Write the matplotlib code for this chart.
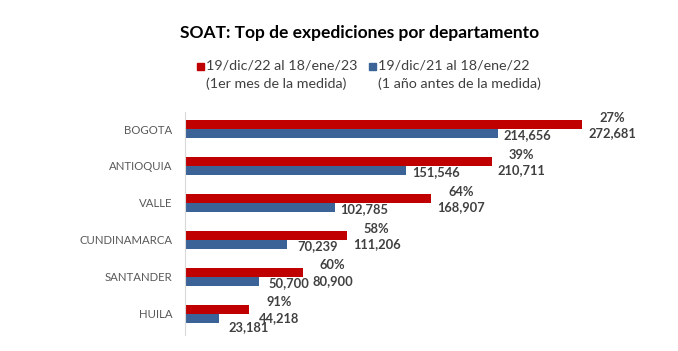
import matplotlib
matplotlib.use("Agg")
import matplotlib.pyplot as plt
from matplotlib.patches import Rectangle
import numpy as np

plt.rcParams['font.family'] = ['Lato', 'DejaVu Sans']

categories = ["BOGOTA", "ANTIOQUIA", "VALLE", "CUNDINAMARCA", "SANTANDER", "HUILA"]
current = [272681, 210711, 168907, 111206, 80900, 44218]
previous = [214656, 151546, 102785, 70239, 50700, 23181]
growth_pct = [27, 39, 64, 58, 60, 91]
series_labels = [("19/dic/22 al 18/ene/23", "(1er mes de la medida)"),
                 ("19/dic/21 al 18/ene/22", "(1 año antes de la medida)")]
title = "SOAT: Top de expediciones por departamento"

RED = "#C00000"
BLUE = "#3B6397"
TXT = "#404040"

W, H = 678, 351
fig = plt.figure(figsize=(W / 100, H / 100), dpi=100)
fig.patch.set_facecolor("white")

ax_left, ax_right = 185, 660
ax_top, ax_bot = 112, 335
ax = fig.add_axes([ax_left / W, 1 - ax_bot / H, (ax_right - ax_left) / W, (ax_bot - ax_top) / H])

px_per_unit = 1.456e-3
ax.set_xlim(0, (ax_right - ax_left) / px_per_unit)
ax.set_ylim(5.57, -0.46)

y = np.arange(len(categories))
bh = 0.245
off = 0.122
ax.barh(y - off, current, height=bh, color=RED)
ax.barh(y + off, previous, height=bh, color=BLUE)

for s in ["top", "right", "bottom"]:
    ax.spines[s].set_visible(False)
ax.spines["left"].set_color("#D9D9D9")
ax.spines["left"].set_linewidth(0.8)
ax.set_xticks([])
ax.set_yticks(y)
ax.set_yticklabels(categories, fontsize=8.2, color="#595959")
ax.tick_params(axis="y", length=0, pad=9)

lab_kw = dict(fontsize=9.3, fontweight="bold", color=TXT, ha="center", va="center",
              textcoords="offset points")
blue_dy = [-1.4, -1.4, -1.4, -1.4, -1.4, -6.5]
for i in range(len(categories)):
    ax.annotate(f"{growth_pct[i]}%", (current[i], y[i] - off), xytext=(21.5, 5.0), **lab_kw)
    ax.annotate(f"{current[i]:,}", (current[i], y[i] - off), xytext=(21.5, -6.1), **lab_kw)
    ax.annotate(f"{previous[i]:,}", (previous[i], y[i] + off), xytext=(21.5, blue_dy[i]), **lab_kw)

fig.text(360 / W, 1 - 33 / H, title, ha="center", va="center", fontsize=12.5,
         fontweight="bold", color="black")

leg_x = [206, 378]
for (l1, l2), c, x0 in zip(series_labels, [RED, BLUE], leg_x):
    fig.patches.append(Rectangle(((x0 - 9) / W, 1 - 69.5 / H), 7 / W, 7 / H,
                                 transform=fig.transFigure, color=c))
    fig.text(x0 / W, 1 - 66 / H, l1, ha="left", va="center", fontsize=10.3, color=TXT)
    fig.text(x0 / W, 1 - 84 / H, l2, ha="left", va="center", fontsize=10.3, color=TXT)

fig.savefig("out.png", dpi=100, facecolor="white")
